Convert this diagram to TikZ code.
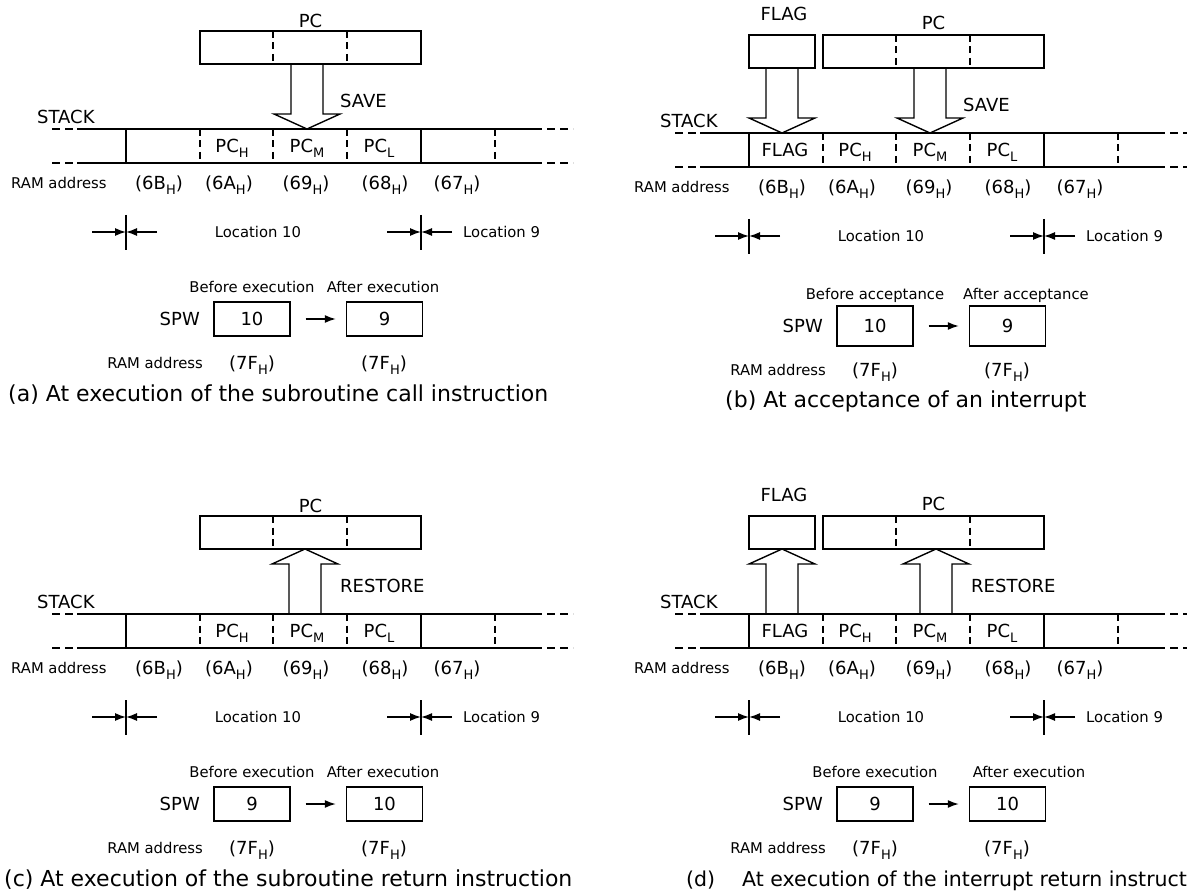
\documentclass[tikz,border=0pt]{standalone}
\usepackage{fontspec}
\setmainfont{DejaVu Sans}
\usetikzlibrary{arrows.meta,calc}
\newcommand\sbs[1]{\raisebox{-0.3em}{\fontsize{13}{13}\selectfont #1}}
\tikzset{
 ln/.style={line width=1.4pt},
 vd/.style={line width=1.4pt, dash pattern=on 7pt off 4.5pt},
 hd/.style={line width=1.4pt, dash pattern=on 8pt off 5pt},
 big/.style={font=\fontsize{18}{18}\selectfont, inner sep=0pt, text height=14pt, text depth=1pt},
 small/.style={font=\fontsize{14.8}{14.8}\selectfont, inner sep=0pt, text height=11.8pt, text depth=1pt},
 capt/.style={font=\fontsize{22}{22}\selectfont, inner sep=0pt, anchor=west, text height=17pt, text depth=1pt},
 regbox/.style={draw, line width=1.4pt, inner sep=0pt, minimum height=33pt},
 spwbox/.style={draw, line width=1.4pt, inner sep=0pt, minimum width=76pt, font=\fontsize{18}{18}\selectfont},
 arr/.style={line width=1.4pt, -{Latex[length=11pt,width=8pt]}},
}
% stack row, drawn in a scope shifted to (first vertical, stack top)
\newcommand\stackrow[2]{%
 \draw[ln] (-49,0) -- (416,0) (-49,34) -- (416,34);
 \draw[hd] (-74,0) -- (-53,0) (-74,34) -- (-53,34) (421,0) -- (447,0) (421,34) -- (447,34);
 \draw[ln] (0,0) -- (0,34) (295,0) -- (295,34);
 \draw[vd] (74,0) -- (74,34) (147,0) -- (147,34) (221,0) -- (221,34) (369,0) -- (369,34);
 \node[big] (#1c1) at (36,17) {#2};
 \node[big] (#1c2) at (106,17) {PC\sbs{H}};
 \node[big] (#1c3) at (181,17) {PC\sbs{M}};
 \node[big] (#1c4) at (253,17) {PC\sbs{L}};
 \node[big,anchor=west] (#1stk) at (-89,-12) {STACK};
 \node[small,anchor=west] (#1ram) at (-115,54) {RAM address};
 \node[big] (#1a1) at (33,54) {(6B\sbs{H})};
 \node[big] (#1a2) at (103,54) {(6A\sbs{H})};
 \node[big] (#1a3) at (180,54) {(69\sbs{H})};
 \node[big] (#1a4) at (259,54) {(68\sbs{H})};
 \node[big] (#1a5) at (331,54) {(67\sbs{H})};
 \draw[ln] (0,86) -- (0,121) (295,86) -- (295,121);
 \coordinate (#1m1) at (0,103);
 \coordinate (#1m2) at (295,103);
 \draw[arr] (-34,103) -- (#1m1);
 \draw[arr] (31,103) -- (#1m1);
 \draw[arr] (261,103) -- (#1m2);
 \draw[arr] (326,103) -- (#1m2);
 \node[small] (#1loc10) at (132,103) {Location 10};
 \node[small,anchor=west] (#1loc9) at (337,103) {Location 9};}
% PC register box
\newcommand\pcreg[2]{%
 \node[regbox, minimum width=221pt] (#1pc) at (184.5,-81.5) {};
 \draw[vd] (147,-98) -- (147,-65) (221,-98) -- (221,-65);
 \node[big] (#1pcl) at (184.5,#2) {PC};}
% FLAG register box
\newcommand\flagreg[1]{%
 \node[regbox, minimum width=66pt] (#1fl) at (33,-81.5) {};
 \node[big] (#1fll) at (35,-119) {FLAG};}
% down arrow (save): #1 name, #2 centre x
\newcommand\downarr[2]{%
 \coordinate (#1s) at (#2,-65);
 \coordinate (#1t) at (#2,0);
 \draw[ln] (#1s) ++(-16,0) -- ++(0,50) -- ++(-17,0) -- (#1t) -- ++(33,-15) -- ++(-17,0) -- ++(0,-50);}
% up arrow (restore)
\newcommand\uparr[2]{%
 \coordinate (#1s) at (#2,0);
 \coordinate (#1t) at (#2,-65);
 \draw[ln] (#1s) ++(-16,0) -- ++(0,-50) -- ++(-17,0) -- (#1t) -- ++(33,15) -- ++(-17,0) -- ++(0,50);}
% SPW part: #1 prefix, #2 box centre y, #3 box height, #4 before, #5 after, #6 n1, #7 n2, #8 after label x
\newcommand\spw[8]{%
 \node[small] (#1bl) at (126,#2-32) {#4};
 \node[small] (#1al) at (#8,#2-32) {#5};
 \node[spwbox, minimum height=#3] (#1b1) at (126,#2) {#6};
 \node[spwbox, minimum height=#3] (#1b2) at (258.5,#2) {#7};
 \node[big,anchor=east] (#1spw) at (74,#2) {SPW};
 \draw[arr, shorten <=15pt, shorten >=10pt] (#1b1) -- (#1b2);
 \node[small,anchor=east] (#1ram2) at (77,#2+44) {RAM address};
 \node[big] (#1f1) at (126,#2+44) {(7F\sbs{H})};
 \node[big] (#1f2) at (258,#2+44) {(7F\sbs{H})};}
\begin{document}
\begin{tikzpicture}[x=1pt,y=-1pt]
\useasboundingbox (0,0) rectangle (1187,896);
\fill[white] (0,0) rectangle (1187,896);
% (a)
\begin{scope}[shift={(126,129)}]
 \stackrow{a}{}
 \pcreg{a}{-108}
 \downarr{ap}{181}
 \node[big,anchor=west] (asave) at (214,-28) {SAVE};
 \spw{a}{190}{34pt}{Before execution}{After execution}{10}{9}{257}
 \node[capt] (acap) at (-118,264) {(a) At execution of the subroutine call instruction};
\end{scope}
% (b)
\begin{scope}[shift={(749,133)}]
 \stackrow{b}{FLAG}
 \pcreg{b}{-110}
 \flagreg{b}
 \downarr{bf}{33}
 \downarr{bp}{181}
 \node[big,anchor=west] (bsave) at (214,-28) {SAVE};
 \spw{b}{193}{40pt}{Before acceptance}{After acceptance}{10}{9}{277}
 \node[capt] (bcap) at (-24,266) {(b) At acceptance of an interrupt};
\end{scope}
% (c)
\begin{scope}[shift={(126,614)}]
 \stackrow{c}{}
 \pcreg{c}{-108}
 \uparr{cp}{179}
 \node[big,anchor=west] (crest) at (214,-28) {RESTORE};
 \spw{c}{190}{34pt}{Before execution}{After execution}{9}{10}{257}
 \node[capt] (ccap) at (-122,264) {(c) At execution of the subroutine return instruction};
\end{scope}
% (d)
\begin{scope}[shift={(749,614)}]
 \stackrow{d}{FLAG}
 \pcreg{d}{-110}
 \flagreg{d}
 \uparr{df}{33}
 \uparr{dp}{187}
 \node[big,anchor=west] (drest) at (222,-28) {RESTORE};
 \spw{d}{190}{34pt}{Before execution}{After execution}{9}{10}{280}
 \node[capt, font=\fontsize{20.5}{20.5}\selectfont] (dcap) at (-63,264) {(d)\hspace{27pt}At execution of the interrupt return instruction};
\end{scope}
\end{tikzpicture}
\end{document}
